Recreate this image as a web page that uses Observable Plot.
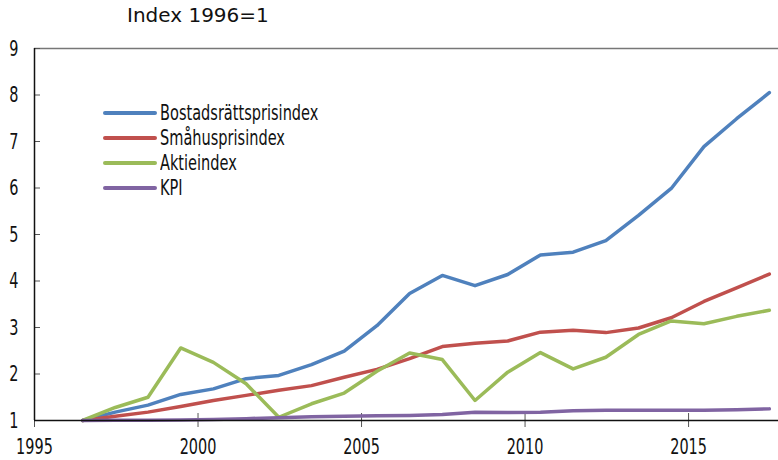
<!DOCTYPE html>
<html>
<head>
<meta charset="utf-8">
<script src="https://cdn.jsdelivr.net/npm/d3@7"></script>
<script src="https://cdn.jsdelivr.net/npm/@observablehq/plot@0.6"></script>
<style>
  body { margin: 0; background: #fff; }
  #wrap { position: relative; width: 778px; height: 460px; overflow: hidden; }
  #title { position: absolute; left: 127px; top: 5px; font-family: "DejaVu Sans", sans-serif; font-size: 20px; line-height: 20px; color: #111; white-space: nowrap; }
  #legend { position: absolute; left: 103px; top: 100px; font-family: "DejaVu Sans Condensed", sans-serif; font-size: 21px; color: #111; }
  .row { display: flex; align-items: center; height: 25px; white-space: nowrap; }
  .sw { width: 54px; height: 4px; border-radius: 2px; margin-right: 3px; flex: none; }
  .lbl { display: inline-block; transform: scaleX(0.77); transform-origin: left center; }
</style>
</head>
<body>
<div id="wrap">
  <div id="title">Index 1996=1</div>
  <div id="legend"></div>
</div>
<script>
const years = [1996,1997,1998,1999,2000,2001,2002,2003,2004,2005,2006,2007,2008,2009,2010,2011,2012,2013,2014,2015,2016,2017];
const bostadsratt = [1.00,1.18,1.33,1.56,1.68,1.90,1.97,2.20,2.49,3.04,3.73,4.12,3.90,4.14,4.56,4.62,4.87,5.41,5.99,6.89,7.49,8.05];
const smahus = [1.00,1.09,1.18,1.30,1.43,1.54,1.65,1.75,1.93,2.10,2.33,2.59,2.66,2.71,2.90,2.94,2.89,2.99,3.21,3.56,3.85,4.15];
const aktie = [1.00,1.28,1.50,2.56,2.25,1.79,1.07,1.36,1.59,2.06,2.45,2.31,1.43,2.04,2.46,2.11,2.36,2.85,3.14,3.08,3.24,3.37];
const kpi = [1.00,1.005,1.005,1.01,1.02,1.04,1.06,1.08,1.09,1.10,1.11,1.13,1.18,1.17,1.18,1.21,1.22,1.22,1.22,1.22,1.23,1.25];
const seriesNames = ["Bostadsrättsprisindex","Småhusprisindex","Aktieindex","KPI"];
const seriesColors = ["#4F81BD","#C0504D","#9BBB59","#8064A2"];
const seriesValues = [bostadsratt, smahus, aktie, kpi];
const xTicks = [1995,2000,2005,2010,2015];
const yTicks = [1,2,3,4,5,6,7,8,9];

const data = [];
seriesNames.forEach((name, s) => years.forEach((yr, i) => data.push({series: name, year: yr, value: seriesValues[s][i]})));

const font = '"DejaVu Sans Condensed", sans-serif';

const chart = Plot.plot({
  width: 778,
  height: 460,
  marginLeft: 34,
  marginRight: 0,
  marginTop: 48,
  marginBottom: 40,
  style: {fontFamily: font, fontSize: "22px", color: "#111", background: "transparent"},
  x: {domain: [1995, 2017.75]},
  y: {domain: [1, 9]},
  color: {domain: seriesNames, range: seriesColors},
  marks: [
    Plot.ruleY([9], {stroke: "#777", strokeWidth: 1.5}),
    Plot.axisY(yTicks, {tickSize: 0, tickPadding: 16, fontSize: 22, label: null}),
    Plot.axisY(yTicks, {tickSize: -6, text: null, stroke: "#555", label: null}),
    Plot.axisX(xTicks, {tickSize: 7, tickPadding: 11, fontSize: 22, stroke: "#555", tickFormat: d => String(d), label: null}),
    Plot.axisX(xTicks, {tickSize: -7, text: null, stroke: "#555", label: null}),
    Plot.lineY(data, {x: d => d.year + 0.47, y: "value", z: "series", stroke: "series", strokeWidth: 3.5, strokeLinejoin: "round"}),
    Plot.ruleY([1], {stroke: "#111", strokeWidth: 1.5}),
    Plot.ruleX([1995], {stroke: "#111", strokeWidth: 1.5})
  ]
});
document.getElementById("wrap").prepend(chart);
chart.style.position = "absolute";
chart.style.left = "0";
chart.style.top = "0";

// condense tick label glyphs horizontally
chart.querySelectorAll("text").forEach(t => {
  const w = t.getComputedTextLength();
  if (w > 0) {
    t.setAttribute("textLength", (w * 0.73).toFixed(2));
    t.setAttribute("lengthAdjust", "spacingAndGlyphs");
  }
});

const legend = document.getElementById("legend");
seriesNames.forEach((name, i) => {
  const row = document.createElement("div");
  row.className = "row";
  const sw = document.createElement("div");
  sw.className = "sw";
  sw.style.background = seriesColors[i];
  const t = document.createElement("span");
  t.className = "lbl";
  t.textContent = name;
  row.appendChild(sw);
  row.appendChild(t);
  legend.appendChild(row);
});
</script>
</body>
</html>
